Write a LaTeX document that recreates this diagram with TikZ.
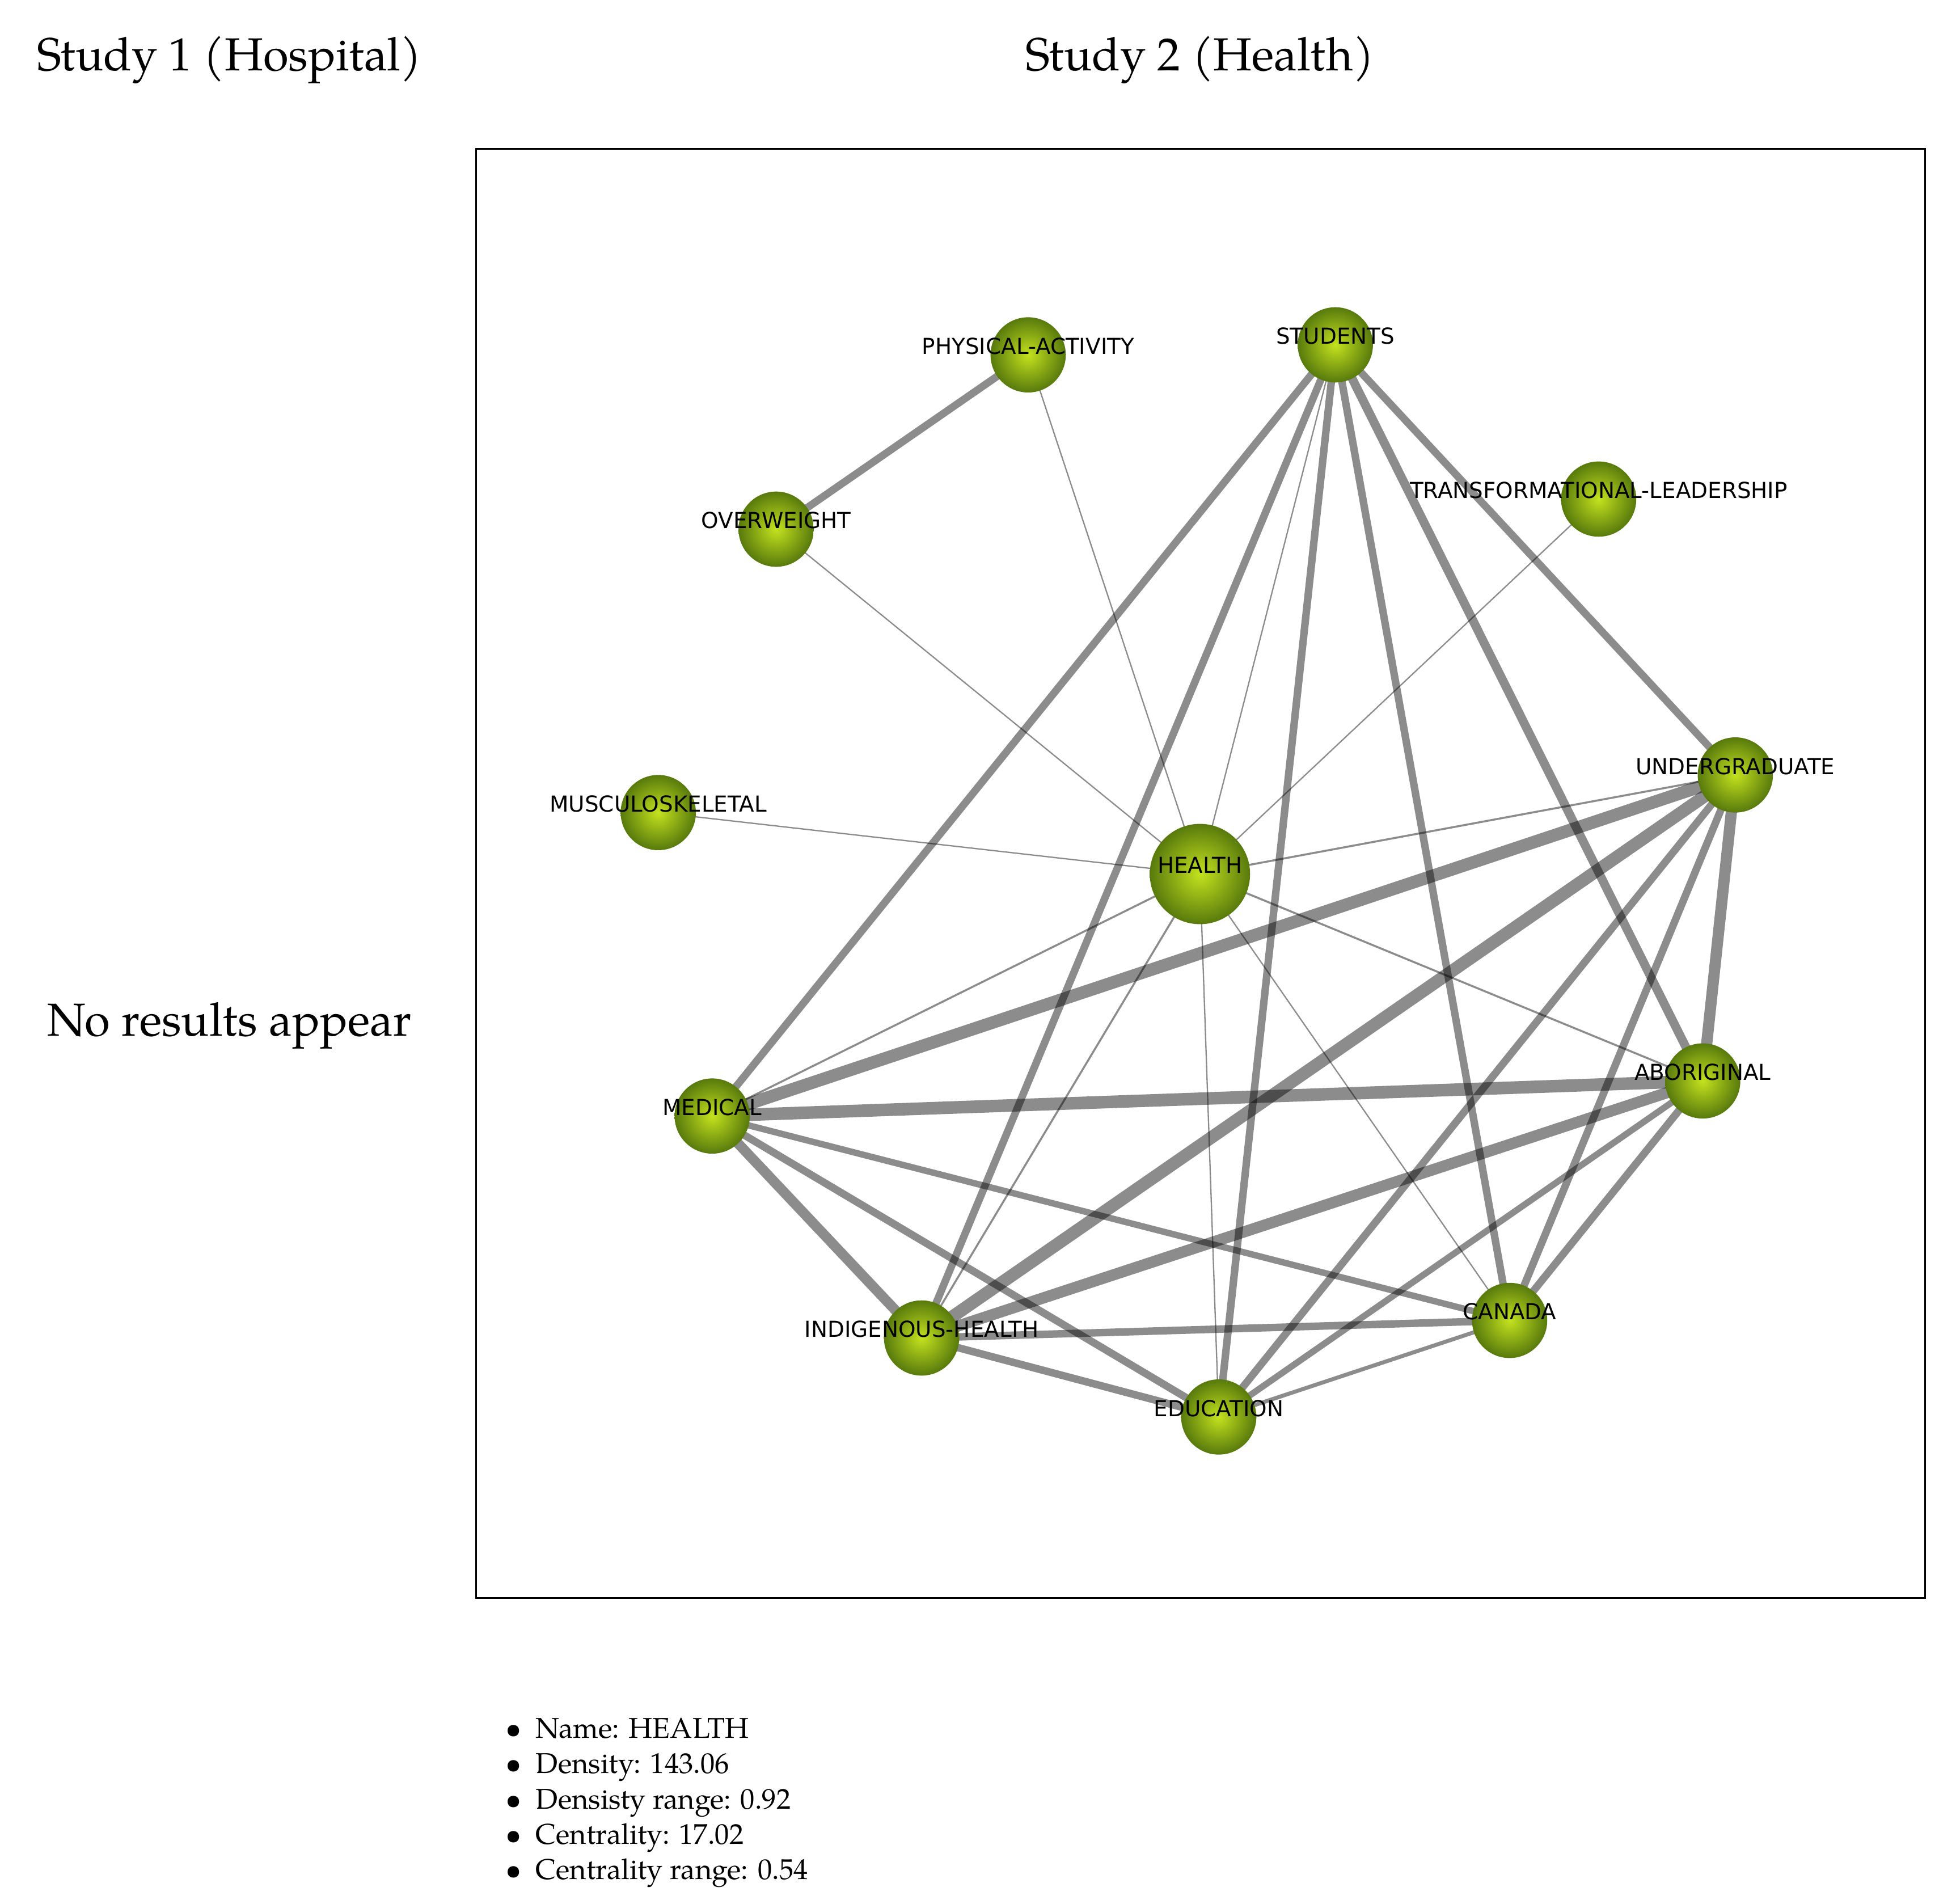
\documentclass[tikz,border=0pt]{standalone}
\usepackage{fontspec}
\setmainfont{TeX Gyre Pagella}
\newfontfamily\labelfont{DejaVu Sans}
\usetikzlibrary{positioning}
\definecolor{ballin}{RGB}{196,226,30}
\definecolor{ballout}{RGB}{88,122,12}
\begin{document}
\begin{tikzpicture}[x=0.02cm, y=-0.02cm]
        \tikzstyle{term}=[circle, minimum size=1.2cm, inner sep=0pt, shading=radial, inner color=ballin, outer color=ballout]
        \tikzstyle{lbl}=[font=\labelfont\fontsize{10}{12}\selectfont, text=black]
        \tikzstyle{link}=[draw=black, opacity=0.45]
        \tikzstyle{title}=[font=\fontsize{21}{25}\selectfont]

        \useasboundingbox (0,0) rectangle (1560,1518);
        \node[title] (S1) at (183,48) {Study 1 (Hospital)};
        \node[title] (S2) at (957,48) {Study 2 (Health)};
        \node[title] (NR) at (183,818) {No results appear};
        \node[draw, line width=0.8pt, minimum width=23.12cm, minimum height=23.12cm, anchor=north west] (box) at (379,118) {};

        % coordinates of the terms
        \coordinate (PA) at (820,283);
        \coordinate (ST) at (1065,275);
        \coordinate (TL) at (1275,398);
        \coordinate (OV) at (619,422);
        \coordinate (MU) at (525,648);
        \coordinate (HE) at (957,697);
        \coordinate (UN) at (1384,618);
        \coordinate (AB) at (1358,862);
        \coordinate (ME) at (568,890);
        \coordinate (CA) at (1204,1053);
        \coordinate (IH) at (735,1067);
        \coordinate (ED) at (972,1130);

        % links, grouped by weight
        \foreach \w/\a/\b in {0.6/PA/HE, 0.6/OV/HE, 0.6/MU/HE, 0.6/TL/HE, 0.6/ST/HE, 0.6/HE/ED, 0.6/HE/CA,
                0.9/UN/HE, 0.9/HE/ME, 0.9/HE/IH, 0.9/HE/AB, 1.8/ED/CA,
                3.4/PA/OV, 3.4/ST/ME, 3.4/ST/IH, 3.4/ST/ED, 3.4/ST/CA, 3.4/ST/UN, 3.4/UN/ED, 3.4/UN/CA,
                3.4/AB/CA, 3.4/ME/ED, 3.4/IH/CA, 3.4/IH/ED, 2.9/AB/ED, 2.9/ME/CA,
                4/ST/AB, 4.6/ME/IH, 5.1/UN/AB, 5.1/AB/IH, 5.7/UN/ME, 5.7/UN/IH, 5.7/AB/ME}
            \draw[link, line width=\w pt] (\a) -- (\b);

        \foreach \n in {PA, ST, TL, OV, MU, UN, AB, ME, CA, IH, ED}
            \node[term] (n\n) at (\n) {};
        \node[term, minimum size=1.6cm] (nHE) at (HE) {};
        \foreach \n/\t in {PA/PHYSICAL-ACTIVITY, ST/STUDENTS, TL/TRANSFORMATIONAL-LEADERSHIP, OV/OVERWEIGHT,
                MU/MUSCULOSKELETAL, UN/UNDERGRADUATE, AB/ABORIGINAL, ME/MEDICAL, CA/CANADA,
                IH/INDIGENOUS-HEALTH, ED/EDUCATION, HE/HEALTH}
            \node[lbl] at ([yshift=0.14cm]n\n) {\t};

        \node[anchor=north west, align=left, font=\fontsize{13}{16}\selectfont] (info) at (397,1364)
            {\textbullet\ \ Name: HEALTH\\ \textbullet\ \ Density: 143.06\\ \textbullet\ \ Densisty range: 0.92\\
             \textbullet\ \ Centrality: 17.02\\ \textbullet\ \ Centrality range: 0.54};
\end{tikzpicture}
\end{document}
